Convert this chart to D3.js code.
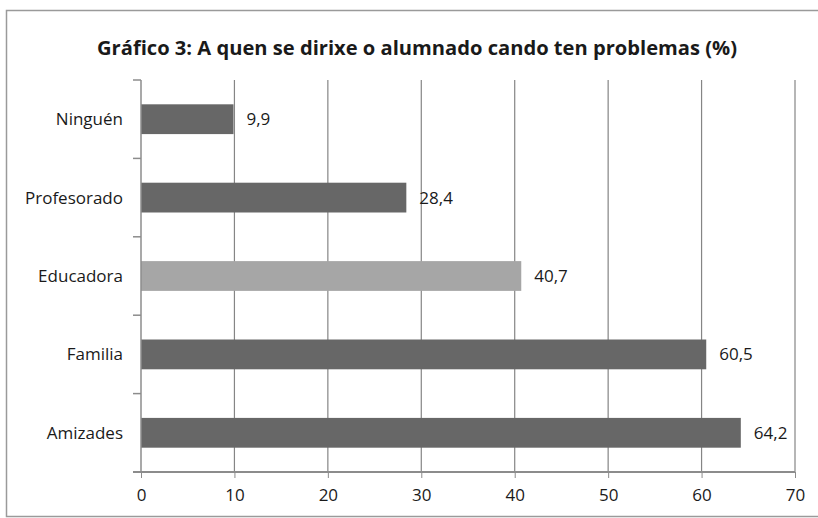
<!DOCTYPE html>
<html>
<head>
<meta charset="utf-8">
<script src="https://cdn.jsdelivr.net/npm/d3@7"></script>
<style>
  body { margin: 0; background: #fff; }
  text { font-family: "Open Sans", "Noto Sans", sans-serif; fill: #1a1a1a; }
</style>
</head>
<body>
<div id="chart"></div>
<script>
var categories = ["Ninguén", "Profesorado", "Educadora", "Familia", "Amizades"];
var values = [9.9, 28.4, 40.7, 60.5, 64.2];
var valueLabels = ["9,9", "28,4", "40,7", "60,5", "64,2"];
var highlight = ["Educadora"];
var xTicks = [0, 10, 20, 30, 40, 50, 60, 70];
var title = "Gráfico 3: A quen se dirixe o alumnado cando ten problemas (%)";

var width = 818,
    height = 518,
    margin = { top: 80, right: 23, bottom: 46, left: 141 };

var svg = d3.select("#chart")
    .append("svg")
    .attr("width", width)
    .attr("height", height);

/* outer frame */
svg.append("rect")
    .attr("x", 6.5)
    .attr("y", 10.5)
    .attr("width", 830)
    .attr("height", 506)
    .attr("fill", "none")
    .attr("stroke", "#9a9a9a")
    .attr("stroke-width", 1.5);

svg.append("text")
    .attr("x", 417)
    .attr("y", 55)
    .attr("text-anchor", "middle")
    .attr("font-size", 20)
    .attr("font-weight", "bold")
    .attr("textLength", 640)
    .attr("lengthAdjust", "spacingAndGlyphs")
    .text(title);

var x = d3.scaleLinear()
    .domain([0, 70])
    .range([margin.left, width - margin.right]);

var y = d3.scaleBand()
    .domain(categories)
    .range([margin.top, height - margin.bottom])
    .paddingInner(0.62)
    .paddingOuter(0.31);

var yTop = margin.top,
    yBottom = height - margin.bottom;

/* vertical grid */
svg.append("g")
    .selectAll("line")
    .data(xTicks.slice(1))
    .enter().append("line")
        .attr("x1", function(d) { return x(d); })
        .attr("x2", function(d) { return x(d); })
        .attr("y1", yTop)
        .attr("y2", yBottom)
        .attr("stroke", "#858585")
        .attr("stroke-width", 1.2);

/* bars */
svg.append("g")
    .selectAll("rect")
    .data(categories)
    .enter().append("rect")
        .attr("x", x(0))
        .attr("y", function(d) { return y(d); })
        .attr("width", function(d, i) { return x(values[i]) - x(0); })
        .attr("height", y.bandwidth())
        .attr("fill", function(d) { return highlight.indexOf(d) >= 0 ? "#a6a6a6" : "#676767"; });

/* value labels */
svg.append("g")
    .selectAll("text")
    .data(categories)
    .enter().append("text")
        .attr("x", function(d, i) { return x(values[i]) + 13; })
        .attr("y", function(d) { return y(d) + y.bandwidth() / 2; })
        .attr("dy", "0.35em")
        .attr("font-size", 17)
        .text(function(d, i) { return valueLabels[i]; });

/* x axis */
var xAxis = svg.append("g")
    .attr("transform", "translate(0," + yBottom + ")")
    .call(d3.axisBottom(x).tickValues(xTicks).tickSize(6).tickPadding(11));

xAxis.select(".domain")
    .attr("d", "M" + (x(0) - 8) + ",0H" + x(70))
    .attr("stroke", "#8c8c8c")
    .attr("stroke-width", 2);
xAxis.selectAll(".tick line").attr("stroke", "#8c8c8c");
xAxis.selectAll(".tick text")
    .attr("font-size", 17)
    .attr("font-family", "Open Sans, sans-serif")
    .attr("fill", "#1a1a1a");

/* y axis */
var step = y.step();
var boundaries = d3.range(categories.length + 1).map(function(i) { return yTop + i * step; });

svg.append("line")
    .attr("x1", x(0))
    .attr("x2", x(0))
    .attr("y1", yTop)
    .attr("y2", yBottom)
    .attr("stroke", "#8c8c8c")
    .attr("stroke-width", 1.5);

svg.append("g")
    .selectAll("line")
    .data(boundaries)
    .enter().append("line")
        .attr("x1", x(0) - 8)
        .attr("x2", x(0))
        .attr("y1", function(d) { return d; })
        .attr("y2", function(d) { return d; })
        .attr("stroke", "#8c8c8c")
        .attr("stroke-width", 1.5);

svg.append("g")
    .selectAll("text")
    .data(categories)
    .enter().append("text")
        .attr("x", 123)
        .attr("y", function(d) { return y(d) + y.bandwidth() / 2; })
        .attr("dy", "0.35em")
        .attr("text-anchor", "end")
        .attr("font-size", 17)
        .text(function(d) { return d; });
</script>
</body>
</html>
